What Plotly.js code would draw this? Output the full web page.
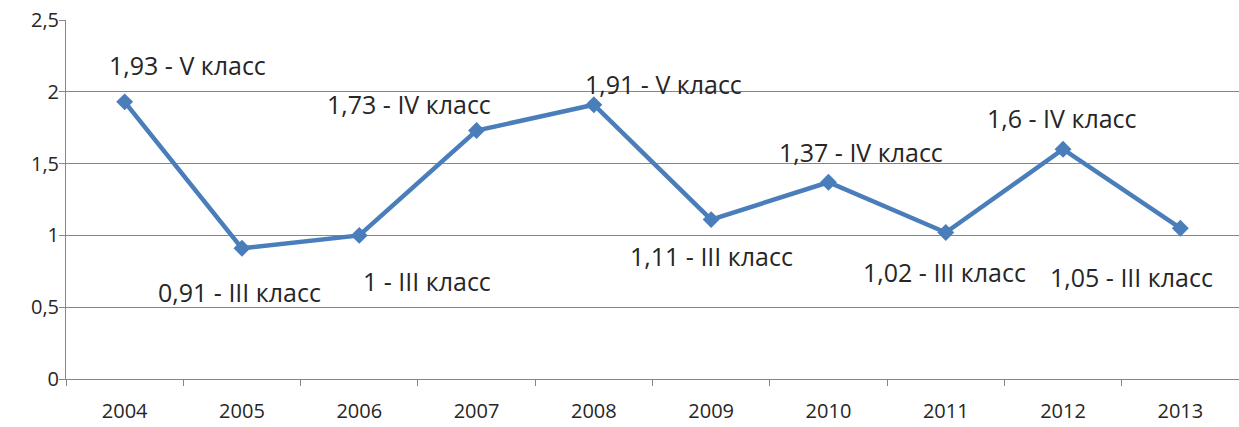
<!DOCTYPE html>
<html>
<head>
<meta charset="utf-8">
<script src="https://cdn.plot.ly/plotly-3.0.1.min.js"></script>
<style>html,body{margin:0;padding:0;background:#fff;}#chart{width:1239px;height:427px;}</style>
</head>
<body>
<div id="chart"></div>
<script>
const years = ['2004','2005','2006','2007','2008','2009','2010','2011','2012','2013'];
const values = [1.93, 0.91, 1.0, 1.73, 1.91, 1.11, 1.37, 1.02, 1.6, 1.05];
const valueLabels = ['1,93','0,91','1','1,73','1,91','1,11','1,37','1,02','1,6','1,05'];
const classes = ['V','III','III','IV','V','III','IV','III','IV','III'];
const yTickVals = [0, 0.5, 1, 1.5, 2, 2.5];
const yTickText = ['0','0,5','1','1,5','2','2,5'];

// label placement (pixel shifts relative to each point)
const labelShift = [[63,37],[-2,-44],[68,-46],[-68,27],[70,21],[0,-36],[33,30],[-1,-39],[-1,31],[-49,-49]];

const font = '"Open Sans", Lato, sans-serif';
const annotations = years.map((y, i) => ({
  x: i, y: values[i], xref: 'x', yref: 'y',
  text: valueLabels[i] + ' - ' + classes[i] + ' класс',
  showarrow: false,
  xshift: labelShift[i][0], yshift: labelShift[i][1],
  font: {family: font, size: 25, color: '#262626'}
}));

const trace = {
  x: years, y: values, type: 'scatter', mode: 'lines+markers',
  line: {color: '#4A7EBB', width: 4.5},
  marker: {symbol: 'diamond', size: 13, color: '#4A7EBB'},
  hoverinfo: 'x+y'
};

const layout = {
  width: 1239, height: 427,
  margin: {l: 66, r: 0, t: 20, b: 48},
  paper_bgcolor: '#fff', plot_bgcolor: '#fff',
  showlegend: false,
  font: {family: font, size: 20, color: '#262626'},
  xaxis: {
    type: 'category', tickson: 'boundaries', range: [-0.5, years.length - 0.5],
    autorange: false, tickangle: 0,
    ticks: 'outside', ticklen: 6, tickcolor: '#868686',
    showline: true, linecolor: '#868686', linewidth: 1,
    showgrid: false, zeroline: false, ticklabelstandoff: 14,
    tickfont: {family: font, size: 20, color: '#262626'}
  },
  yaxis: {
    range: [0, 2.5], autorange: false, tickvals: yTickVals, ticktext: yTickText,
    ticks: 'outside', ticklen: 6, tickcolor: '#868686',
    showline: true, linecolor: '#868686', linewidth: 1,
    showgrid: true, gridcolor: '#868686', gridwidth: 1,
    zeroline: false, ticklabelstandoff: -4,
    tickfont: {family: font, size: 20, color: '#262626'}
  },
  annotations: annotations
};

Plotly.newPlot('chart', [trace], layout, {displayModeBar: false, staticPlot: true});
</script>
</body>
</html>
